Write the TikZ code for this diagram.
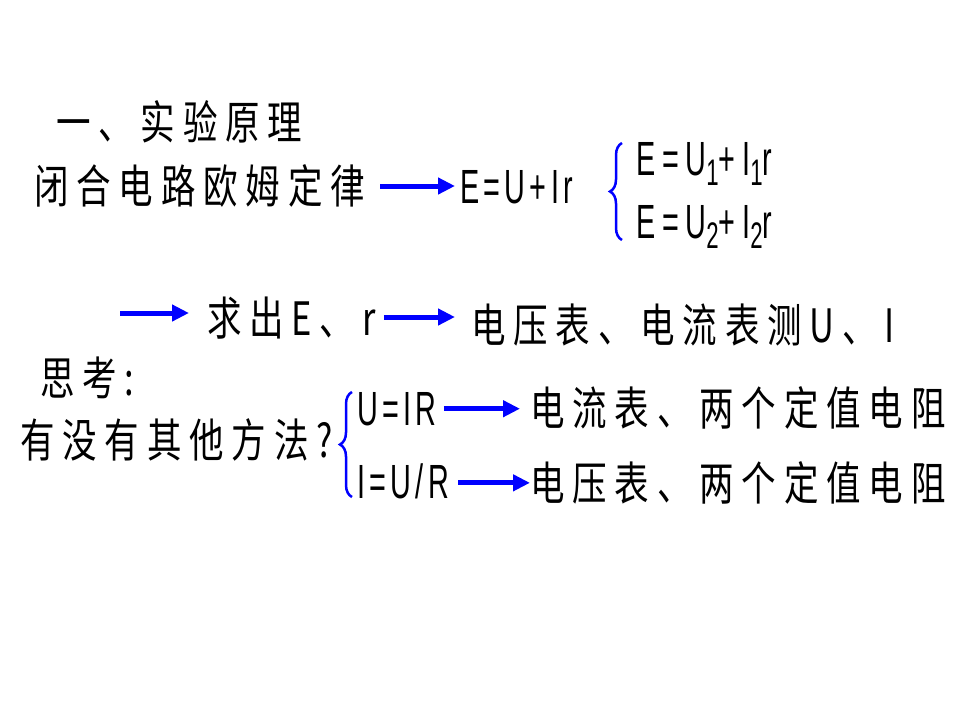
\documentclass[tikz,border=0pt]{standalone}
\usepackage{fontspec}
\newfontfamily\cjkfont[FakeStretch=0.75,LetterSpace=17]{Noto Sans CJK SC}
\newfontfamily\latfont[FakeStretch=0.6,LetterSpace=9]{Liberation Sans}
\usetikzlibrary{arrows.meta, positioning, calc, decorations.pathreplacing}
\definecolor{arrowblue}{RGB}{0,0,255}
\newcommand\lowidx[1]{\raisebox{-10pt}{\fontsize{37}{37}\selectfont #1}}

\begin{document}
\begin{tikzpicture}[
        x=1pt, y=-1pt,
        cjk/.style={anchor=west, inner sep=0pt, font=\cjkfont\fontsize{46}{50}\selectfont},
        formula/.style={anchor=base west, inner sep=0pt, font=\latfont\fontsize{48}{52}\selectfont},
        caseline/.style={formula, font=\latfont\addfontfeature{LetterSpace=14}\fontsize{48}{52}\selectfont},
        arrowline/.style={draw=arrowblue, line width=5pt, -{Triangle[length=17pt,width=16pt]}},
        bracebar/.style={draw=arrowblue, line width=2.5pt, decorate, decoration={brace, amplitude=12pt}}
    ]
        \useasboundingbox (0,0) rectangle (960,720);

        \node[cjk] (title) at (56,122) {一、实验原理};
        \node[cjk] (law) at (34,186) {闭合电路欧姆定律};
        \node[formula] (eq) at (460,203) {E=U+Ir};
        \node[caseline] (eqa) at (636,175) {E=U\lowidx{1}+I\lowidx{1}r};
        \node[caseline] (eqb) at (636,238) {E=U\lowidx{2}+I\lowidx{2}r};

        \coordinate (start) at (120,313);
        \node[cjk] (solve) at (207,318) {求出E、r};
        \node[cjk] (meter) at (471,325) {电压表、电流表测U、I};

        \node[cjk] (think) at (40,378) {思考:};
        \node[cjk] (other) at (20,440) {有没有其他方法?};
        \node[formula] (uir) at (357,425) {U=IR};
        \node[formula] (iur) at (357,498) {I=U/R};
        \node[cjk] (ammeter) at (530,408) {电流表、两个定值电阻};
        \node[cjk] (voltmeter) at (530,483) {电压表、两个定值电阻};

        \draw[arrowline, shorten <=15pt, shorten >=5pt] (law.east) -- (law.east -| eq.west);
        \draw[arrowline, shorten >=18pt] (start) -- (start -| solve.west);
        \draw[arrowline, shorten <=8pt, shorten >=16pt] ($(solve.east)+(0,-1)$) -- ($(solve.east -| meter.west)+(0,-1)$);
        \draw[arrowline, shorten <=7pt, shorten >=10pt] (uir.east) -- (uir.east -| ammeter.west);
        \draw[arrowline, shorten <=9pt] ($(iur.east)+(0,2)$) -- ($(iur.east -| voltmeter.west)+(0,2)$);

        \draw[bracebar] (622,240) -- (622,143);
        \draw[bracebar] (352,497) -- (352,392);
    \end{tikzpicture}
\end{document}
